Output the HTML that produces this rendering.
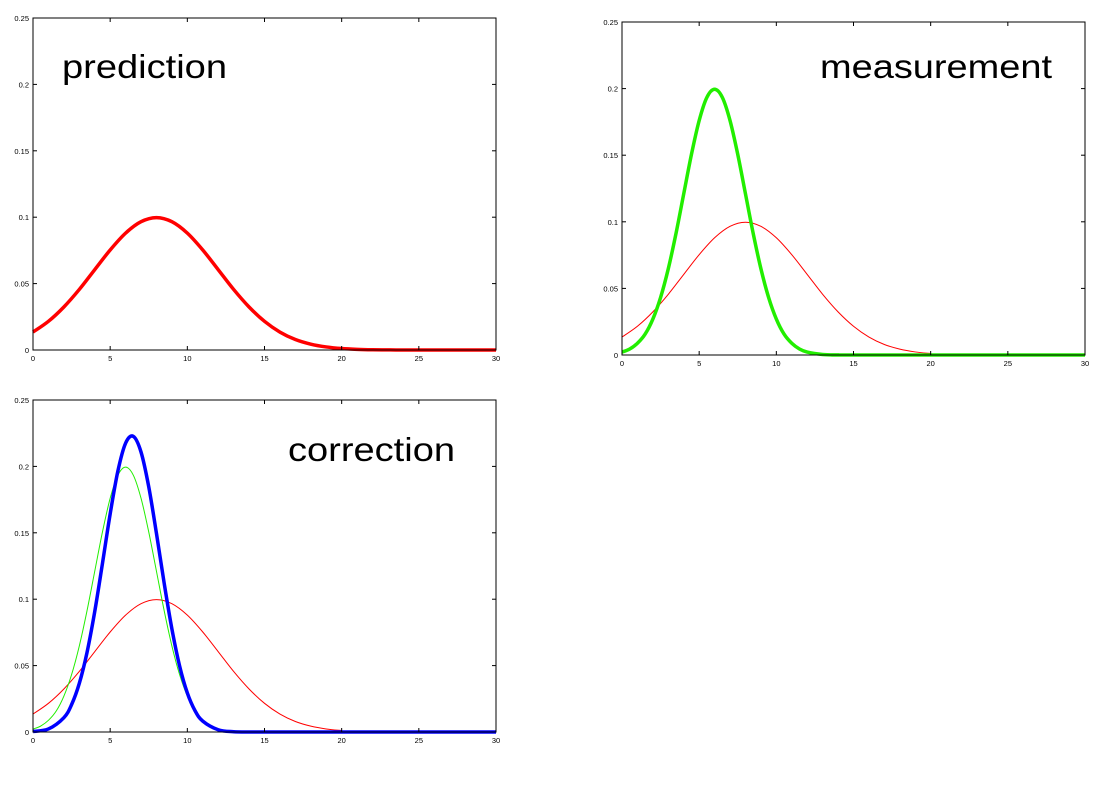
<!DOCTYPE html>
<html><head><meta charset="utf-8"><style>
html,body{margin:0;padding:0;background:#fff;}
svg{display:block;font-family:"Liberation Sans",sans-serif;}
</style></head><body>
<svg id="c" width="1101" height="793" viewBox="0 0 1101 793"></svg>
<script>
const xTicks=[0,5,10,15,20,25,30];
const yTicks=[0,0.05,0.1,0.15,0.2,0.25];
const yTickLabels=["0","0.05","0.1","0.15","0.2","0.25"];
const redX=[0,1,2,3,4,5,6,7,8,9,10,11,12,13,14,15,16,17,18,19,20,21,22,23,24,30];
const redY=[0.0135,0.0216,0.0324,0.0456,0.0605,0.0753,0.0880,0.0966,0.0997,0.0966,0.0880,0.0753,0.0605,0.0456,0.0324,0.0216,0.0135,0.0079,0.0044,0.0023,0.0011,0.0005,0.0002,0.0001,0,0];
const redX2=[0,1,2,3,4,5,6,7,8,9,10,11,12,13,14,15,16,17,18,19,20];
const redY2=[0.0135,0.0216,0.0324,0.0456,0.0605,0.0753,0.0880,0.0966,0.0997,0.0966,0.0880,0.0753,0.0605,0.0456,0.0324,0.0216,0.0135,0.0079,0.0044,0.0023,0.0011];
const greenX=[0,0.5,1,1.5,2,2.5,3,3.5,4,4.5,5,5.5,6,6.5,7,7.5,8,8.5,9,9.5,10,10.5,11,11.5,12,13,14,15,30];
const greenY=[0.0022,0.0045,0.0088,0.0157,0.0270,0.0432,0.0648,0.0913,0.1210,0.1506,0.1760,0.1934,0.1995,0.1934,0.1760,0.1506,0.1210,0.0913,0.0648,0.0432,0.0270,0.0157,0.0088,0.0045,0.0022,0.0004,0.0001,0,0];
const blueX=[0,1,2,2.5,3,3.5,4,4.5,5,5.5,6,6.5,7,7.5,8,8.5,9,9.5,10,10.5,11,12,13,14,15,30];
const blueY=[0.0004,0.0023,0.0108,0.0206,0.0366,0.0599,0.0907,0.1269,0.1642,0.1965,0.2175,0.2226,0.2108,0.1846,0.1495,0.1120,0.0776,0.0497,0.0294,0.0160,0.0082,0.0017,0.0002,0,0,0];

const NS="http://www.w3.org/2000/svg";
const svg=document.getElementById('c');
function mk(tag,attrs,parent){const e=document.createElementNS(NS,tag);for(const k in attrs)e.setAttribute(k,attrs[k]);(parent||svg).appendChild(e);return e;}
const panels=[
 {name:'prediction',x0:33,x1:496,yTop:18,yBot:350,label:'prediction',lx:62,ly:78,tl:165,
  series:[[redX,redY,'#ff0000',3.5,'red-prediction-curve']]},
 {name:'measurement',x0:622,x1:1085,yTop:22,yBot:355,label:'measurement',lx:820,ly:78,tl:232,
  series:[[redX2,redY2,'#ff0000',1,'red-prediction-curve'],[greenX,greenY,'#22ee00',3.5,'green-measurement-curve']]},
 {name:'correction',x0:33,x1:496,yTop:400,yBot:732,label:'correction',lx:288,ly:461,tl:167,
  series:[[redX2,redY2,'#ff0000',1,'red-prediction-curve'],[greenX,greenY,'#22ee00',1,'green-measurement-curve'],[blueX,blueY,'#0000ff',3.5,'blue-correction-curve']]}
];
panels.forEach(p=>{
 const g=mk('g',{});
 
 
 const sx=v=>p.x0+(v/30)*(p.x1-p.x0);
 const sy=v=>p.yBot-(v/0.25)*(p.yBot-p.yTop);
 p.series.forEach(s=>{
  const [xs,ys,col,w,nm]=s;
  const pts=xs.map((x,i)=>[sx(x),sy(ys[i])]);
  let d='M'+pts[0][0]+','+pts[0][1];
  for(let i=0;i<pts.length-1;i++){
   const p0=pts[Math.max(0,i-1)],p1=pts[i],p2=pts[i+1],p3=pts[Math.min(pts.length-1,i+2)];
   const c1=[p1[0]+(p2[0]-p0[0])/6,p1[1]+(p2[1]-p0[1])/6];
   const c2=[p2[0]-(p3[0]-p1[0])/6,p2[1]-(p3[1]-p1[1])/6];
   c1[1]=Math.min(c1[1],p.yBot);c2[1]=Math.min(c2[1],p.yBot);
   d+=` C${c1[0]},${c1[1]} ${c2[0]},${c2[1]} ${p2[0]},${p2[1]}`;
  }
  const path=mk('path',{d:d,fill:'none',stroke:col,'stroke-width':w,'stroke-linejoin':'round'},g);
  
  
 });
 const box=mk('rect',{x:p.x0,y:p.yTop,width:p.x1-p.x0,height:p.yBot-p.yTop,fill:'none',stroke:'#000','stroke-width':1},g);
 
 
 xTicks.forEach(t=>{
  const x=sx(t);
  mk('line',{x1:x,x2:x,y1:p.yBot,y2:p.yBot-4,stroke:'#000'},g);
  mk('line',{x1:x,x2:x,y1:p.yTop,y2:p.yTop+4,stroke:'#000'},g);
  const tx=mk('text',{x:x,y:p.yBot+11,'font-size':7.5,'text-anchor':'middle'},g);
  tx.textContent=String(t);
  
  
 });
 yTicks.forEach((t,i)=>{
  const y=sy(t);
  mk('line',{x1:p.x0,x2:p.x0+4,y1:y,y2:y,stroke:'#000'},g);
  mk('line',{x1:p.x1,x2:p.x1-4,y1:y,y2:y,stroke:'#000'},g);
  const tx=mk('text',{x:p.x0-4,y:y+3,'font-size':7.5,'text-anchor':'end'},g);
  tx.textContent=yTickLabels[i];
  
  
 });
 const lb=mk('text',{x:p.lx,y:p.ly,'font-size':33,textLength:p.tl,lengthAdjust:'spacingAndGlyphs',fill:'#000'},g);
 lb.textContent=p.label;
 
 
});
</script>
</body></html>
